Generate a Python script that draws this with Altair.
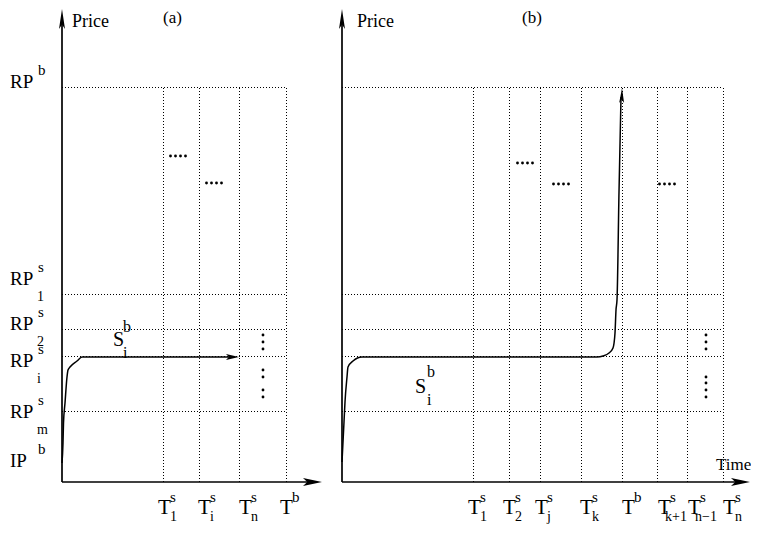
import math
import altair as alt
import pandas as pd

# ---------------- data ----------------
ORIGIN_A = 54      # time-axis origin of panel (a) on the shared x scale
ORIGIN_B = 334     # time-axis origin of panel (b)

# price levels (units above the time axis)
RP_B, RP_1, RP_2, RP_I, RP_M, IP_B = 394, 187, 152, 125, 70, 19
grid_prices = [RP_B, RP_1, RP_2, RP_I, RP_M]

# vertical dotted time lines
times_a = [101, 137, 177, 224]
times_b = [131, 167, 198, 239, 280, 315, 345, 381]

# time tick labels
tlab_a_pos = [96, 136, 177, 218]
tlab_a_sup = ["s", "s", "s", "b"]
tlab_a_sub = ["1", "i", "n", ""]
tlab_b_pos = [126, 161, 193, 238, 280, 316, 346, 381]
tlab_b_sup = ["s", "s", "s", "s", "b", "s", "s", "s"]
tlab_b_sub = ["1", "2", "j", "k", "", "k+1", "n\u22121", "n"]

# price labels
ylab_main = ["RP", "RP", "RP", "RP", "RP", "IP"]
ylab_sup = ["b", "s", "s", "s", "s", "b"]
ylab_sub = ["", "1", "2", "i", "m", ""]
ylab_base = [394, 197, 152, 115, 64, 15]

# price paths
curve_a_t = [0, 1, 1.5, 3, 5, 6, 8, 15, 20, 172]
curve_a_p = [19, 39, 59, 79, 105, 112, 115, 121, 125, 125]
curve_b_t = [0, 1, 2, 3, 5, 6, 11, 20, 255, 261, 267, 271, 273, 274, 275, 277, 279]
curve_b_p = [20, 40, 60, 80, 105, 115, 121, 125, 125, 126, 129, 134, 149, 172, 182, 290, 385]

# "...." marks (centres) and vertical dot columns
hdots_a = [(116, 326), (152, 299)]
hdots_b = [(183, 319), (219, 298), (325, 298)]
vdots_a_x, vdots_a_y = 201, [147, 140, 133, 112, 105, 92, 85]
vdots_b_x, vdots_b_y = 364, [147, 140, 133, 105, 99, 92, 85]

# arrow heads: tip x, tip y, angle, length, half-width ratio
arrow_x = [ORIGIN_A, ORIGIN_B, ORIGIN_A + 260, ORIGIN_B + 408, ORIGIN_A + 177, ORIGIN_B + 280]
arrow_y = [473, 473, 0, 0, 125, 394]
arrow_ang = [0, 0, 90, 90, 90, 1.4]
arrow_len = [20, 20, 19, 19, 13, 15]
arrow_w = [0.3, 0.3, 0.42, 0.42, 0.46, 0.33]

# ---------------- tables ----------------
FONT = "Liberation Serif"
HALF = 0.5  # crisp 1px dotted lines

grid_rows = []
for org, ts in ((ORIGIN_A, times_a), (ORIGIN_B, times_b)):
    last = org + max(ts)
    for p in grid_prices:
        grid_rows.append(dict(x=org, x2=last, y=p + HALF, y2=p + HALF))
    for t in ts:
        grid_rows.append(dict(x=org + t + HALF, x2=org + t + HALF, y=0, y2=RP_B))
grid_df = pd.DataFrame(grid_rows)

axis_df = pd.DataFrame([
    dict(x=ORIGIN_A, x2=ORIGIN_A, y=0, y2=462),
    dict(x=ORIGIN_B, x2=ORIGIN_B, y=0, y2=462),
    dict(x=ORIGIN_A, x2=ORIGIN_A + 250, y=0, y2=0),
    dict(x=ORIGIN_B, x2=ORIGIN_B + 398, y=0, y2=0),
])

curve_rows = []
for i, (t, p) in enumerate(zip(curve_a_t, curve_a_p)):
    curve_rows.append(dict(x=ORIGIN_A + t, y=p, s="a", o=i))
for i, (t, p) in enumerate(zip(curve_b_t, curve_b_p)):
    curve_rows.append(dict(x=ORIGIN_B + t, y=p, s="b", o=i))
curve_df = pd.DataFrame(curve_rows)

arrow_rows = []
for tx, ty, ang, ln, w in zip(arrow_x, arrow_y, arrow_ang, arrow_len, arrow_w):
    r = math.radians(ang)
    arrow_rows.append(dict(
        x=tx - ln / 2 * math.sin(r), y=ty - ln / 2 * math.cos(r),
        angle=ang, size=ln * ln,
        shape=f"M0,-1L{w},1L0,0.55L-{w},1Z"))
arrow_df = pd.DataFrame(arrow_rows)

dot_rows = []
for org, groups in ((ORIGIN_A, hdots_a), (ORIGIN_B, hdots_b)):
    for cx, cy in groups:
        for off in (-7.5, -2.5, 2.5, 7.5):
            dot_rows.append(dict(x=org + cx + off, y=cy))
for yy in vdots_a_y:
    dot_rows.append(dict(x=ORIGIN_A + vdots_a_x, y=yy))
for yy in vdots_b_y:
    dot_rows.append(dict(x=ORIGIN_B + vdots_b_x, y=yy))
dot_df = pd.DataFrame(dot_rows)

text_rows = []
def add(x, y, t, size):
    if t:
        text_rows.append(dict(x=x, y=y, t=t, size=size))

# titles
add(ORIGIN_A + 10, 455, "Price", 18)
add(ORIGIN_B + 15, 455, "Price", 18)
add(ORIGIN_A + 101, 459, "(a)", 17)
add(ORIGIN_B + 180, 459, "(b)", 17)
add(ORIGIN_B + 374, 12, "Time", 17)
# price labels
for m, sp, sb, b in zip(ylab_main, ylab_sup, ylab_sub, ylab_base):
    add(2, b, m, 19)
    add(30, b + 13, sp, 15)
    add(29, b - 16, sb, 14)
# time labels
for org, pos, sps, sbs in ((ORIGIN_A, tlab_a_pos, tlab_a_sup, tlab_a_sub),
                           (ORIGIN_B, tlab_b_pos, tlab_b_sup, tlab_b_sub)):
    for L, sp, sb in zip(pos, sps, sbs):
        add(org + L, -32, "T", 21)
        add(org + L + 12, -20, sp, 15)
        add(org + L + (12 if len(sb) == 1 else 7), -39, sb, 14)
# path labels
add(ORIGIN_A + 51, 136, "S", 20)
add(ORIGIN_A + 61, 150, "b", 16)
add(ORIGIN_A + 61, 124, "i", 16)
add(ORIGIN_B + 73, 89, "S", 20)
add(ORIGIN_B + 85, 105, "b", 16)
add(ORIGIN_B + 85, 77, "i", 16)
text_df = pd.DataFrame(text_rows)

# ---------------- chart ----------------
W, H = 743, 516
xs = alt.Scale(domain=[0, W], nice=False, zero=False)
ys = alt.Scale(domain=[474 - H, 474], nice=False, zero=False)
X = lambda f: alt.X(f, type="quantitative", scale=xs, axis=None)
Y = lambda f: alt.Y(f, type="quantitative", scale=ys, axis=None)

grid = alt.Chart(grid_df).mark_rule(color="black", strokeWidth=1, strokeDash=[1, 2]).encode(
    x=X("x"), x2="x2", y=Y("y"), y2="y2")
axes = alt.Chart(axis_df).mark_rule(color="black", strokeWidth=1.7).encode(
    x=X("x"), x2="x2", y=Y("y"), y2="y2")
curves = alt.Chart(curve_df).mark_line(color="black", strokeWidth=1.5, interpolate="monotone").encode(
    x=X("x"), y=Y("y"), detail="s:N", order="o:Q")
arrows = alt.Chart(arrow_df).mark_point(filled=True, color="black", opacity=1, strokeWidth=0).encode(
    x=X("x"), y=Y("y"), angle=alt.Angle("angle:Q", scale=None),
    size=alt.Size("size:Q", scale=None), shape=alt.Shape("shape:N", scale=None))
dots = alt.Chart(dot_df).mark_circle(color="black", size=8, opacity=1).encode(x=X("x"), y=Y("y"))
texts = alt.Chart(text_df).mark_text(align="left", baseline="alphabetic", font=FONT, color="black").encode(
    x=X("x"), y=Y("y"), text="t:N", size=alt.Size("size:Q", scale=None))

chart = alt.layer(grid, axes, curves, arrows, dots, texts).properties(
    width=W, height=H, autosize="none", padding=0
).configure_view(stroke=None)

chart.save("out.html", embed_options={"renderer": "svg", "actions": False})
